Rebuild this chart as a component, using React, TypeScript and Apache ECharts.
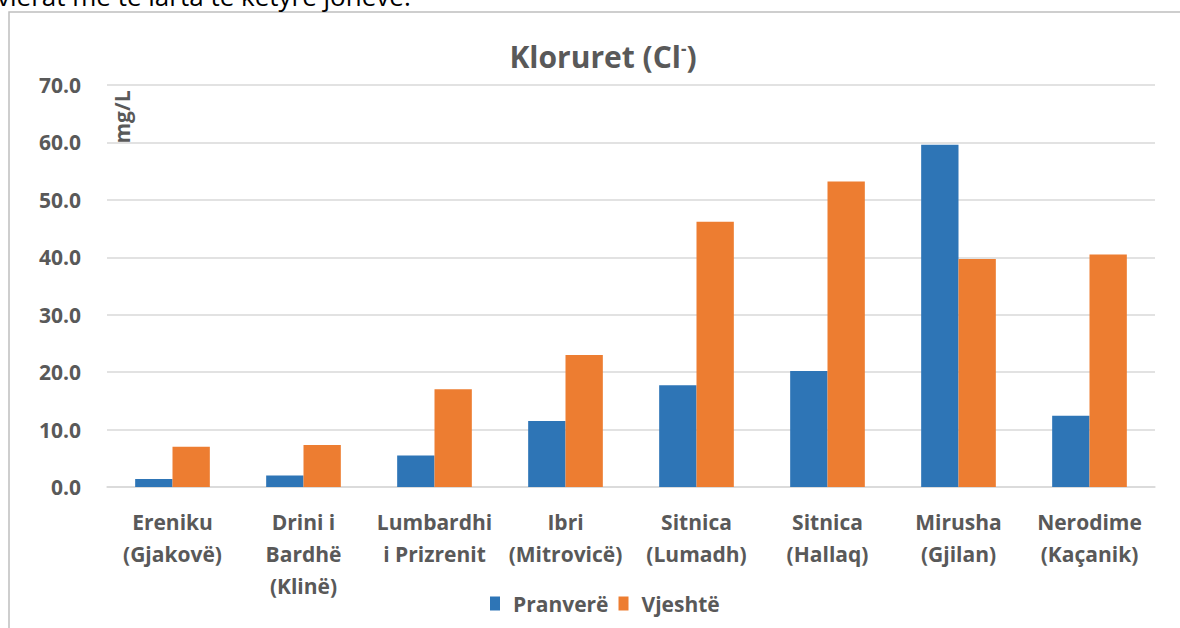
import React, { useEffect, useRef } from "react";
import * as echarts from "echarts";

const categories = [
  "Ereniku\n(Gjakovë)",
  "Drini i\nBardhë\n(Klinë)",
  "Lumbardhi\ni Prizrenit",
  "Ibri\n(Mitrovicë)",
  "Sitnica\n(Lumadh)",
  "Sitnica\n(Hallaq)",
  "Mirusha\n(Gjilan)",
  "Nerodime\n(Kaçanik)",
];
const pranvere = [1.4, 2.0, 5.5, 11.5, 17.7, 20.2, 59.6, 12.4];
const vjeshte = [7.0, 7.3, 17.0, 23.0, 46.2, 53.2, 39.7, 40.5];
const seriesNames = ["Pranverë", "Vjeshtë"];
const titleText = "Kloruret (Cl";
const titleSup = "-";
const unitText = "mg/L";
const topText = "vlerat më të larta të këtyre joneve.";

const FONT = "'Open Sans', 'Noto Sans', sans-serif";
const GREY = "#595959";

export default function App() {
  const ref = useRef<HTMLDivElement>(null);
  useEffect(() => {
    if (!ref.current) return;
    const chart = echarts.init(ref.current, undefined, { renderer: "svg" });
    chart.setOption({
      animation: false,
      backgroundColor: "#ffffff",
      textStyle: { fontFamily: FONT },
      title: {
        text: "{a|" + titleText + "}{s|" + titleSup + "}{a|)}",
        left: 598,
        textAlign: "center",
        top: 35,
        textStyle: {
          rich: {
            a: { fontFamily: FONT, fontSize: 30, fontWeight: "bold", color: GREY },
            s: { fontFamily: FONT, fontSize: 17, fontWeight: "bold", color: GREY, verticalAlign: "top", padding: [0, 0, 15, 0] },
          },
        },
      },
      legend: {
        data: seriesNames,
        left: 485,
        top: 588,
        itemWidth: 10,
        itemHeight: 14,
        itemGap: 10,
        icon: "rect",
        textStyle: { fontFamily: FONT, fontSize: 21, fontWeight: "bold", color: GREY, padding: [0, 0, 0, 8] },
      },
      grid: { left: 107, right: 25, top: 85, bottom: 141, containLabel: false },
      xAxis: {
        type: "category",
        data: categories,
        axisLine: { lineStyle: { color: "#d9d9d9", width: 1.5 } },
        axisTick: { show: false },
        axisLabel: {
          interval: 0,
          margin: 19,
          fontFamily: FONT,
          fontSize: 21,
          fontWeight: "bold",
          color: GREY,
          lineHeight: 32,
        },
      },
      yAxis: {
        type: "value",
        min: 0,
        max: 70,
        interval: 10,
        axisLine: { show: false },
        axisTick: { show: false },
        splitLine: { lineStyle: { color: "#d9d9d9", width: 1.5 } },
        axisLabel: {
          margin: 26,
          fontFamily: FONT,
          fontSize: 21,
          fontWeight: "bold",
          color: GREY,
          formatter: (v: number) => v.toFixed(1),
        },
      },
      series: [
        {
          name: seriesNames[0],
          type: "bar",
          data: pranvere,
          barGap: "0%",
          barCategoryGap: "43%",
          itemStyle: { color: "#2E75B6" },
        },
        {
          name: seriesNames[1],
          type: "bar",
          data: vjeshte,
          itemStyle: { color: "#ED7D31" },
        },
      ],
      graphic: [
        {
          type: "rect",
          z: -10,
          shape: { x: 9, y: 12, width: 1300, height: 800 },
          style: { fill: "none", stroke: "#bfbfbf", lineWidth: 1.5 },
        },
        {
          type: "text",
          x: -3,
          y: -17,
          style: {
            text: topText,
            fontFamily: FONT,
            fontSize: 26,
            fill: "#000000",
          },
        },
        {
          type: "text",
          x: 122,
          y: 117,
          rotation: Math.PI / 2,
          style: {
            text: unitText,
            fontFamily: FONT,
            fontSize: 21,
            fontWeight: "bold",
            fill: GREY,
            align: "center",
            verticalAlign: "middle",
          },
        },
      ],
    });
    return () => chart.dispose();
  }, []);
  return (
    <div
      ref={ref}
      style={{ position: "fixed", left: 0, top: 0, width: 1180, height: 628 }}
    />
  );
}
